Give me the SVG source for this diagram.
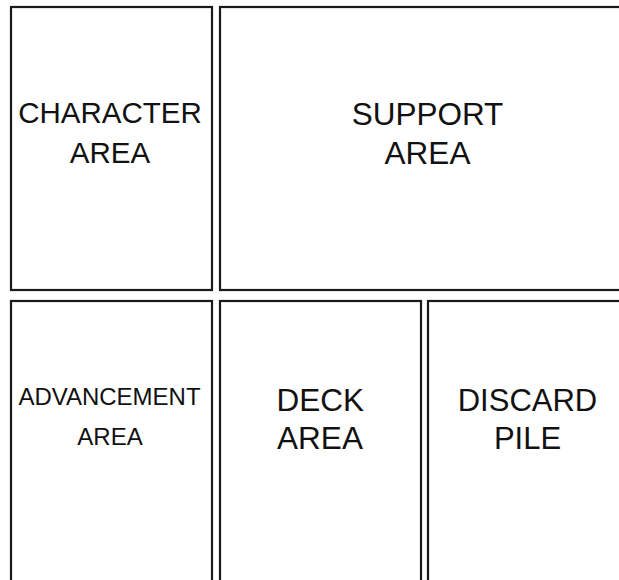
<svg xmlns="http://www.w3.org/2000/svg" width="619" height="580" viewBox="0 0 619 580">
<style>
.box{fill:#fff;stroke:#1a1a1a;stroke-width:2.2}
.t{font-family:"Liberation Sans",Arial,sans-serif;fill:#111;text-anchor:middle}
</style>
<rect width="619" height="580" fill="#fff"/>
<g id="character-area">
<rect class="box" x="11" y="7" width="201" height="283"/>
<text class="t" x="110" y="123" font-size="29.5">CHARACTER</text>
<text class="t" x="110" y="163" font-size="29.5">AREA</text>
</g>
<g id="support-area">
<rect class="box" x="220" y="7" width="420" height="283"/>
<text class="t" x="427.5" y="124.5" font-size="31.5">SUPPORT</text>
<text class="t" x="427.5" y="164" font-size="31.5">AREA</text>
</g>
<g id="advancement-area">
<rect class="box" x="11" y="301" width="201" height="300"/>
<text class="t" x="109.5" y="404.5" font-size="24">ADVANCEMENT</text>
<text class="t" x="110" y="444.5" font-size="24">AREA</text>
</g>
<g id="deck-area">
<rect class="box" x="220" y="301" width="201" height="300"/>
<text class="t" x="320.3" y="410.5" font-size="31.5">DECK</text>
<text class="t" x="320" y="449" font-size="31.5">AREA</text>
</g>
<g id="discard-pile">
<rect class="box" x="428" y="301" width="220" height="300"/>
<text class="t" x="527.5" y="410.5" font-size="31">DISCARD</text>
<text class="t" x="527.5" y="449" font-size="31">PILE</text>
</g>
<g id="connectors"></g>
</svg>
